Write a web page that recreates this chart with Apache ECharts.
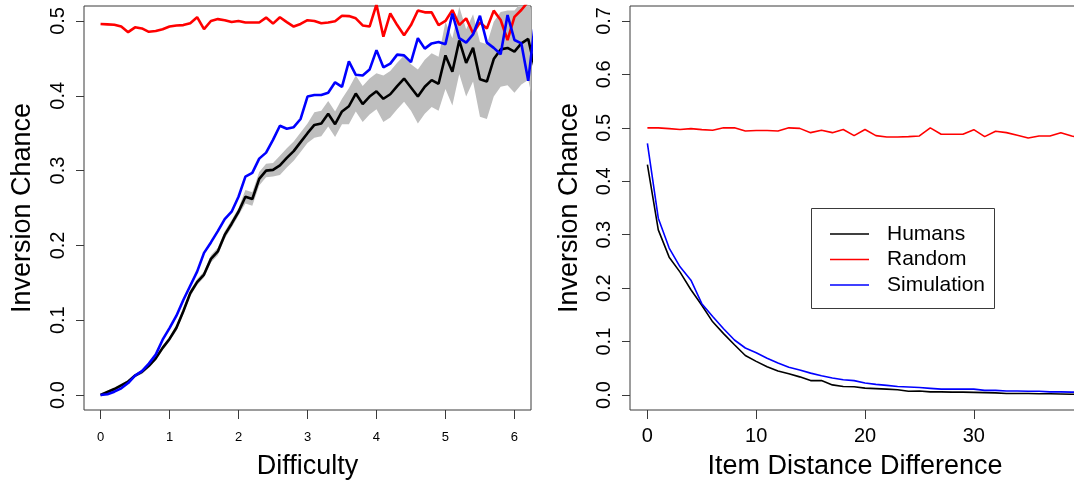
<!DOCTYPE html>
<html>
<head>
<meta charset="utf-8">
<script src="https://cdn.jsdelivr.net/npm/echarts@6/dist/echarts.min.js"></script>
<style>
  html, body { margin: 0; padding: 0; background: #fff; }
  #chart { width: 1074px; height: 482px; }
</style>
</head>
<body>
<div id="chart"></div>
<script>
// ---- Left panel: inversion chance against difficulty ----
const difficulty = [
  0.0, 0.1, 0.2, 0.3, 0.4, 0.5, 0.6, 0.7, 0.8, 0.9,
  1.0, 1.1, 1.2, 1.3, 1.4, 1.5, 1.6, 1.7, 1.8, 1.9,
  2.0, 2.1, 2.2, 2.3, 2.4, 2.5, 2.6, 2.7, 2.8, 2.9,
  3.0, 3.1, 3.2, 3.3, 3.4, 3.5, 3.6, 3.7, 3.8, 3.9,
  4.0, 4.1, 4.2, 4.3, 4.4, 4.5, 4.6, 4.7, 4.8, 4.9,
  5.0, 5.1, 5.2, 5.3, 5.4, 5.5, 5.6, 5.7, 5.8, 5.9,
  6.0, 6.1, 6.2, 6.3
];
const humansByDifficulty = [
  0.000, 0.004, 0.008, 0.013, 0.018, 0.026, 0.031, 0.039, 0.049, 0.063,
  0.075, 0.090, 0.112, 0.136, 0.151, 0.161, 0.182, 0.192, 0.214, 0.229,
  0.245, 0.265, 0.262, 0.289, 0.300, 0.301, 0.307, 0.317, 0.326, 0.338,
  0.350, 0.361, 0.363, 0.376, 0.362, 0.379, 0.386, 0.403, 0.389, 0.399,
  0.406, 0.396, 0.402, 0.413, 0.423, 0.411, 0.399, 0.412, 0.421, 0.416,
  0.454, 0.432, 0.474, 0.444, 0.464, 0.422, 0.419, 0.449, 0.462, 0.464,
  0.459, 0.470, 0.476, 0.435
];
const humansLower = [
  -0.002, 0.002, 0.006, 0.011, 0.016, 0.024, 0.028, 0.036, 0.046, 0.060,
  0.072, 0.086, 0.108, 0.132, 0.147, 0.157, 0.177, 0.187, 0.209, 0.224,
  0.240, 0.256, 0.253, 0.280, 0.291, 0.292, 0.294, 0.304, 0.313, 0.325,
  0.337, 0.344, 0.346, 0.359, 0.345, 0.362, 0.362, 0.379, 0.365, 0.375,
  0.382, 0.365, 0.371, 0.382, 0.392, 0.380, 0.363, 0.376, 0.385, 0.380,
  0.409, 0.387, 0.429, 0.399, 0.419, 0.372, 0.369, 0.399, 0.412, 0.414,
  0.404, 0.415, 0.421, 0.380
];
const humansUpper = [
  0.002, 0.006, 0.010, 0.015, 0.020, 0.028, 0.034, 0.042, 0.052, 0.066,
  0.078, 0.094, 0.116, 0.140, 0.155, 0.165, 0.187, 0.197, 0.219, 0.234,
  0.250, 0.274, 0.271, 0.298, 0.309, 0.310, 0.320, 0.330, 0.339, 0.351,
  0.363, 0.378, 0.380, 0.393, 0.379, 0.396, 0.410, 0.427, 0.413, 0.423,
  0.430, 0.427, 0.433, 0.444, 0.454, 0.442, 0.435, 0.448, 0.457, 0.452,
  0.499, 0.477, 0.519, 0.489, 0.509, 0.472, 0.469, 0.499, 0.512, 0.514,
  0.514, 0.525, 0.531, 0.490
];
const randomByDifficulty = [
  0.496, 0.4955, 0.495, 0.4925, 0.485, 0.4915, 0.490, 0.4855, 0.4865, 0.489,
  0.4925, 0.494, 0.4945, 0.497, 0.505, 0.489, 0.500, 0.5025, 0.501, 0.4985,
  0.500, 0.498, 0.498, 0.498, 0.5045, 0.4965, 0.505, 0.4985, 0.4925, 0.496,
  0.501, 0.500, 0.497, 0.498, 0.4995, 0.507, 0.5065, 0.5035, 0.494, 0.4925,
  0.522, 0.479, 0.510, 0.4945, 0.481, 0.4945, 0.514, 0.5115, 0.5115, 0.4945,
  0.500, 0.5145, 0.4945, 0.5035, 0.4835, 0.498, 0.490, 0.5138, 0.5013, 0.4745,
  0.5055, 0.5147, 0.526, 0.535
];
const simulationByDifficulty = [
  0.000, 0.001, 0.0045, 0.009, 0.016, 0.026, 0.032, 0.042, 0.054, 0.074,
  0.0895, 0.106, 0.127, 0.146, 0.165, 0.190, 0.204, 0.219, 0.235, 0.245,
  0.265, 0.292, 0.297, 0.316, 0.324, 0.341, 0.360, 0.356, 0.358, 0.369,
  0.399, 0.401, 0.401, 0.404, 0.418, 0.412, 0.446, 0.428, 0.427, 0.435,
  0.461, 0.438, 0.443, 0.455, 0.454, 0.445, 0.477, 0.463, 0.470, 0.472,
  0.469, 0.510, 0.477, 0.471, 0.482, 0.507, 0.471, 0.464, 0.4555, 0.508,
  0.4746, 0.470, 0.420, 0.500
];
const difficultyTicks = [0, 1, 2, 3, 4, 5, 6];
const leftChanceTicks = [0, 0.1, 0.2, 0.3, 0.4, 0.5];

// ---- Right panel: inversion chance against item distance difference ----
const itemDistance = [
  0, 1, 2, 3, 4, 5, 6, 7, 8, 9,
  10, 11, 12, 13, 14, 15, 16, 17, 18, 19,
  20, 21, 22, 23, 24, 25, 26, 27, 28, 29,
  30, 31, 32, 33, 34, 35, 36, 37, 38, 39, 40
];
const humansByDistance = [
  0.431, 0.309, 0.258, 0.230, 0.197, 0.168, 0.137, 0.115, 0.094, 0.074,
  0.063, 0.053, 0.045, 0.040, 0.034, 0.027, 0.027, 0.019, 0.016, 0.0155,
  0.013, 0.012, 0.011, 0.010, 0.007, 0.0075, 0.006, 0.006, 0.0055, 0.0055,
  0.005, 0.0045, 0.004, 0.003, 0.003, 0.003, 0.0025, 0.0025, 0.002, 0.0015, 0.001
];
const randomByDistance = [
  0.500, 0.500, 0.4985, 0.497, 0.4985, 0.4966, 0.4954, 0.500, 0.500, 0.494,
  0.495, 0.495, 0.494, 0.500, 0.499, 0.491, 0.4954, 0.491, 0.497, 0.4855,
  0.497, 0.4855, 0.483, 0.483, 0.4836, 0.4848, 0.500, 0.488, 0.488, 0.488,
  0.4966, 0.4836, 0.4935, 0.491, 0.486, 0.481, 0.4848, 0.4848, 0.491, 0.4848, 0.480
];
const simulationByDistance = [
  0.471, 0.331, 0.275, 0.240, 0.215, 0.171, 0.147, 0.124, 0.103, 0.088,
  0.079, 0.069, 0.060, 0.052, 0.047, 0.041, 0.036, 0.032, 0.0285, 0.027,
  0.0225, 0.020, 0.018, 0.016, 0.015, 0.014, 0.0125, 0.011, 0.011, 0.011,
  0.011, 0.0087, 0.0087, 0.0075, 0.0075, 0.007, 0.007, 0.006, 0.006, 0.0055, 0.005
];
const distanceTicks = [0, 10, 20, 30];
const rightChanceTicks = [0, 0.1, 0.2, 0.3, 0.4, 0.5, 0.6, 0.7];

const legendNames = ['Humans', 'Random', 'Simulation'];
const seriesColors = { Humans: '#000000', Random: '#ff0000', Simulation: '#0000ff' };

const FONT = '"Liberation Sans", Arial, Helvetica, sans-serif';
const INK = '#000';
const FRAME = '#3a3a3a';

function pairs(xs, ys) { return xs.map((x, i) => [x, ys[i]]); }

function xAxisDef(gridIndex, min, max, ticks, labelSize, labelMargin, title, titlePad) {
  return {
    type: 'value', gridIndex, min, max, position: 'bottom',
    axisLine: { show: false, onZero: false },
    splitLine: { show: false },
    axisTick: { show: true, inside: false, length: 9, customValues: ticks,
                lineStyle: { color: FRAME, width: 1 } },
    axisLabel: { show: true, customValues: ticks, margin: labelMargin,
                 fontFamily: FONT, fontSize: labelSize, color: INK,
                 formatter: v => String(v) },
    name: title, nameLocation: 'middle', nameGap: 43,
    nameTextStyle: { fontFamily: FONT, fontSize: 27, color: INK, padding: titlePad }
  };
}

function yAxisDef(gridIndex, min, max, ticks, titleGap) {
  return {
    type: 'value', gridIndex, min, max, position: 'left',
    axisLine: { show: false, onZero: false },
    splitLine: { show: false },
    axisTick: { show: true, inside: false, length: 8, customValues: ticks,
                lineStyle: { color: FRAME, width: 1 } },
    axisLabel: { show: true, customValues: ticks, rotate: 90, margin: 16,
                 fontFamily: FONT, fontSize: 20, color: INK,
                 formatter: v => v.toFixed(1) },
    name: 'Inversion Chance', nameLocation: 'middle', nameRotate: 90, nameGap: titleGap,
    nameTextStyle: { fontFamily: FONT, fontSize: 27, color: INK }
  };
}

function lineSeries(name, xi, yi, xs, ys, width, z) {
  return {
    type: 'line', name, xAxisIndex: xi, yAxisIndex: yi,
    data: pairs(xs, ys),
    symbol: 'none', clip: true, z,
    lineStyle: { color: seriesColors[name], width },
    itemStyle: { color: seriesColors[name] },
    silent: true, animation: false
  };
}

// Shaded interval around the human curve, built from the lower/upper bounds
const bandSeries = {
  type: 'custom', name: 'Humans interval', xAxisIndex: 0, yAxisIndex: 0,
  data: [[0, 0]], silent: true, z: 1, animation: false,
  renderItem: function (params, api) {
    const cs = params.coordSys;
    const pts = [];
    for (let i = 0; i < difficulty.length; i++) pts.push(api.coord([difficulty[i], humansUpper[i]]));
    for (let i = difficulty.length - 1; i >= 0; i--) pts.push(api.coord([difficulty[i], humansLower[i]]));
    return {
      type: 'polygon',
      shape: { points: pts },
      style: { fill: '#bebebe', stroke: null },
      clipPath: { type: 'rect', shape: { x: cs.x, y: cs.y, width: cs.width, height: cs.height } }
    };
  }
};

// Legend box drawn inside the right panel
const legendTop = 208.5, legendLeft = 811.5, legendRow = 25.5;
const legendGraphics = [{
  type: 'rect', z: 50,
  shape: { x: legendLeft, y: legendTop, width: 183, height: 100 },
  style: { fill: '#fff', stroke: FRAME, lineWidth: 1 }
}];
legendNames.forEach((name, i) => {
  const y = 234 + i * legendRow;
  legendGraphics.push({
    type: 'line', z: 51,
    shape: { x1: 830, y1: y, x2: 869, y2: y },
    style: { stroke: seriesColors[name], lineWidth: 1.6 }
  });
  legendGraphics.push({
    type: 'text', z: 51, x: 887, y: y,
    style: { text: name, font: '21px ' + FONT, fill: INK, verticalAlign: 'middle', align: 'left' }
  });
});

const chart = echarts.init(document.getElementById('chart'), null, { renderer: 'canvas' });
chart.setOption({
  animation: false,
  backgroundColor: '#fff',
  grid: [
    { left: 84, top: 6, width: 447, height: 404, show: true, borderColor: FRAME, borderWidth: 1,
      backgroundColor: 'transparent', containLabel: false, outerBoundsMode: 'none' },
    { left: 630, top: 6, width: 470, height: 404, show: true, borderColor: FRAME, borderWidth: 1,
      backgroundColor: 'transparent', containLabel: false, outerBoundsMode: 'none' }
  ],
  xAxis: [
    xAxisDef(0, -0.24, 6.24, difficultyTicks, 13, 21, 'Difficulty', 0),
    xAxisDef(1, -1.6, 41.6, distanceTicks, 20, 16, 'Item Distance Difference', [0, 20, 0, 0])
  ],
  yAxis: [
    yAxisDef(0, -0.02, 0.52, leftChanceTicks, 48),
    yAxisDef(1, -0.028, 0.728, rightChanceTicks, 47)
  ],
  series: [
    bandSeries,
    lineSeries('Humans', 0, 0, difficulty, humansByDifficulty, 2.6, 3),
    lineSeries('Random', 0, 0, difficulty, randomByDifficulty, 2.6, 4),
    lineSeries('Simulation', 0, 0, difficulty, simulationByDifficulty, 2.6, 5),
    lineSeries('Humans', 1, 1, itemDistance, humansByDistance, 1.6, 3),
    lineSeries('Random', 1, 1, itemDistance, randomByDistance, 1.6, 4),
    lineSeries('Simulation', 1, 1, itemDistance, simulationByDistance, 1.6, 5)
  ],
  graphic: legendGraphics
});
</script>
</body>
</html>
